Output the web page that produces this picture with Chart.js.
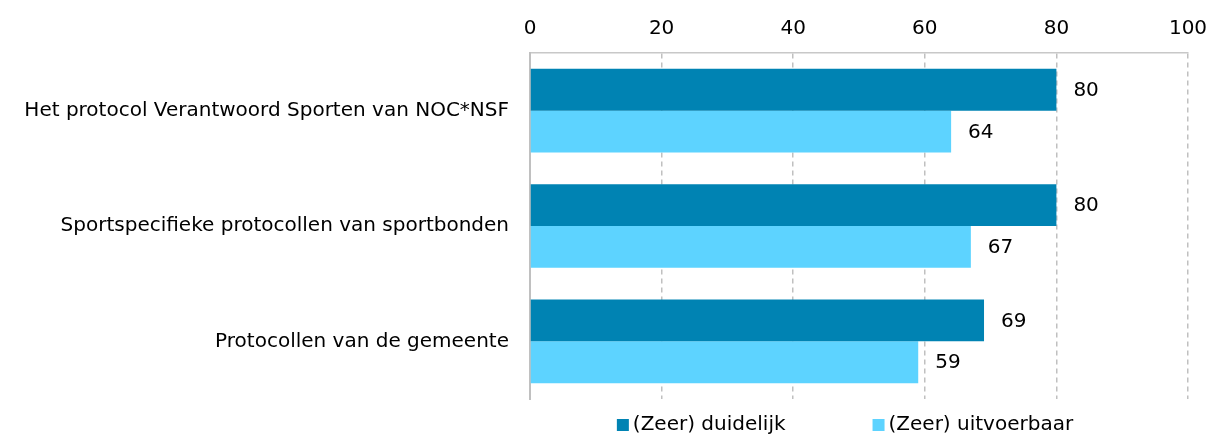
<!DOCTYPE html>
<html lang="nl">
<head>
    <meta charset="UTF-8">
    <title>Protocollen</title>
    <script src="https://cdn.jsdelivr.net/npm/chart.js"></script>
    <style>
        html, body { margin: 0; padding: 0; background: #fff; }
        #wrap { width: 1210px; height: 435px; }
    </style>
</head>
<body>
    <div id="wrap"><canvas id="chart" width="1210" height="435"></canvas></div>

    <script>
        // Gegevens
        const categories = [
            'Het protocol Verantwoord Sporten van NOC*NSF',
            'Sportspecifieke protocollen van sportbonden',
            'Protocollen van de gemeente'
        ];
        const duidelijk = [80, 80, 69];
        const uitvoerbaar = [64, 67, 59];
        const xTicks = [0, 20, 40, 60, 80, 100];

        const fontFamily = '"DejaVu Sans", Verdana, sans-serif';
        const fontSize = 20;

        // Waarden rechts naast de balken tekenen
        const valueLabels = {
            id: 'valueLabels',
            afterDatasetsDraw(chart) {
                const ctx = chart.ctx;
                ctx.save();
                ctx.font = fontSize + 'px ' + fontFamily;
                ctx.fillStyle = '#000';
                ctx.textBaseline = 'middle';
                chart.data.datasets.forEach((ds, i) => {
                    chart.getDatasetMeta(i).data.forEach((bar, j) => {
                        ctx.fillText(ds.data[j], bar.x + 17, bar.y + 1);
                    });
                });
                ctx.restore();
            }
        };

        // Eigen legenda onder de grafiek (ruimere afstand tussen de items)
        const bottomLegend = {
            id: 'bottomLegend',
            afterDraw(chart) {
                const ctx = chart.ctx;
                const area = chart.chartArea;
                const box = 12, gapText = 4, gapItem = 87;
                ctx.save();
                ctx.font = fontSize + 'px ' + fontFamily;
                ctx.textBaseline = 'middle';
                const items = chart.data.datasets.map(ds => ({
                    text: ds.label,
                    color: ds.backgroundColor,
                    w: box + gapText + ctx.measureText(ds.label).width
                }));
                const total = items.reduce((s, it) => s + it.w, 0) + gapItem * (items.length - 1);
                let x = (area.left + area.right) / 2 - 14 - total / 2;
                const y = 425;
                items.forEach(it => {
                    ctx.fillStyle = it.color;
                    ctx.fillRect(x, y - box / 2, box, box);
                    ctx.fillStyle = '#000';
                    ctx.fillText(it.text, x + box + gapText, y);
                    x += it.w + gapItem;
                });
                ctx.restore();
            }
        };

        new Chart(document.getElementById('chart'), {
            type: 'bar',
            data: {
                labels: categories,
                datasets: [{
                    label: '(Zeer) duidelijk',
                    data: duidelijk,
                    backgroundColor: '#0083B3',
                    categoryPercentage: 0.726,
                    barPercentage: 1
                }, {
                    label: '(Zeer) uitvoerbaar',
                    data: uitvoerbaar,
                    backgroundColor: '#5DD3FF',
                    categoryPercentage: 0.726,
                    barPercentage: 1
                }]
            },
            options: {
                indexAxis: 'y',
                responsive: false,
                animation: false,
                layout: { padding: { left: 0, right: 0, top: 5, bottom: 36 } },
                scales: {
                    x: {
                        position: 'top',
                        min: 0,
                        max: 100,
                        afterBuildTicks(axis) { axis.ticks = xTicks.map(v => ({ value: v })); },
                        afterFit(axis) { axis.paddingLeft = 0; axis.paddingRight = 22; },
                        grid: {
                            color: '#c0c0c0',
                            lineWidth: 1.5,
                            drawTicks: false
                        },
                        border: { display: true, color: '#c8c8c8', width: 1.5, dash: [5, 4] },
                        ticks: {
                            color: '#000',
                            padding: 12,
                            font: { family: fontFamily, size: fontSize }
                        }
                    },
                    y: {
                        afterFit(axis) { axis.width = 530; },
                        grid: { display: false, drawTicks: false },
                        border: { display: true, color: '#c0c0c0', width: 2 },
                        ticks: {
                            color: '#000',
                            padding: 21,
                            font: { family: fontFamily, size: fontSize }
                        }
                    }
                },
                plugins: {
                    legend: { display: false },
                    tooltip: { enabled: false }
                }
            },
            plugins: [valueLabels, bottomLegend]
        });
    </script>
</body>
</html>
